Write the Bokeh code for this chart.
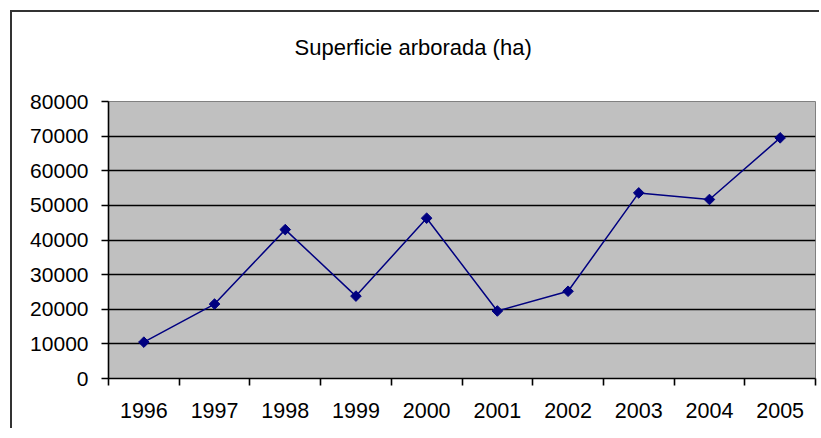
from bokeh.plotting import figure
from bokeh.models import Range1d, FixedTicker, Title, ColumnDataSource
from bokeh.embed import file_html
from bokeh.resources import INLINE
import math

years = [1996, 1997, 1998, 1999, 2000, 2001, 2002, 2003, 2004, 2005]
values = [10500, 21500, 43000, 23800, 46300, 19500, 25200, 53600, 51700, 69500]
y_ticks = [0, 10000, 20000, 30000, 40000, 50000, 60000, 70000, 80000]
title_text = "Superficie arborada (ha)"

FONT = "Liberation Sans"

p = figure(width=809, height=418, output_backend="svg", toolbar_location=None,
           x_range=Range1d(years[0] - 0.5, years[-1] + 0.5),
           y_range=Range1d(y_ticks[0], y_ticks[-1]),
           min_border_left=96, min_border_top=89, min_border_right=6, min_border_bottom=52)

p.styles = {"border-top": "2px solid #333333", "border-left": "2px solid #333333",
            "margin-left": "10px", "margin-top": "10px"}

p.background_fill_color = "#C0C0C0"
p.border_fill_color = "white"
p.outline_line_color = "#808080"
p.outline_line_width = 1

# spacer between frame and title (keeps the title higher up)
spacer = Title(text=" ", text_font_size="1px", standoff=39)
p.add_layout(spacer, "above")
t = Title(text=title_text, align="left", offset=186, standoff=0,
          text_font=FONT, text_font_size="22px", text_font_style="normal", text_color="black")
p.add_layout(t, "above")

# x axis: labels at centers, tick marks at category boundaries
p.xaxis.ticker = FixedTicker(ticks=years, minor_ticks=[y - 0.5 for y in years] + [years[-1] + 0.5])
p.xaxis.major_tick_out = 0
p.xaxis.major_tick_in = 0
p.xaxis.minor_tick_out = 7
p.xaxis.minor_tick_in = 0
p.xaxis.minor_tick_line_color = "black"
p.xaxis.minor_tick_line_width = 1.6
p.xaxis.axis_line_color = "black"
p.xaxis.axis_line_width = 1.6
p.xaxis.major_label_standoff = 17
p.xaxis.major_label_text_font = FONT
p.xaxis.major_label_text_font_size = "21.5px"
p.xaxis.major_label_text_color = "black"

p.yaxis.ticker = FixedTicker(ticks=y_ticks)
p.yaxis.major_tick_out = 7
p.yaxis.major_tick_in = 0
p.yaxis.minor_tick_out = 0
p.yaxis.minor_tick_in = 0
p.yaxis.major_tick_line_color = "black"
p.yaxis.major_tick_line_width = 1.6
p.yaxis.axis_line_color = "black"
p.yaxis.axis_line_width = 1.6
p.yaxis.major_label_standoff = 13
p.yaxis.major_label_text_font = FONT
p.yaxis.major_label_text_font_size = "21px"
p.yaxis.major_label_text_color = "black"

p.xgrid.visible = False
p.ygrid.ticker = FixedTicker(ticks=y_ticks[1:-1])
p.ygrid.grid_line_color = "black"
p.ygrid.grid_line_width = 1.6

src = ColumnDataSource(data=dict(x=years, y=values))
p.line("x", "y", source=src, line_color="#000080", line_width=1.5)
p.scatter("x", "y", source=src, marker="square", angle=math.pi / 4, size=7.5,
          fill_color="#000080", line_color="#000080")

open("out.html", "w").write(file_html(p, INLINE))
